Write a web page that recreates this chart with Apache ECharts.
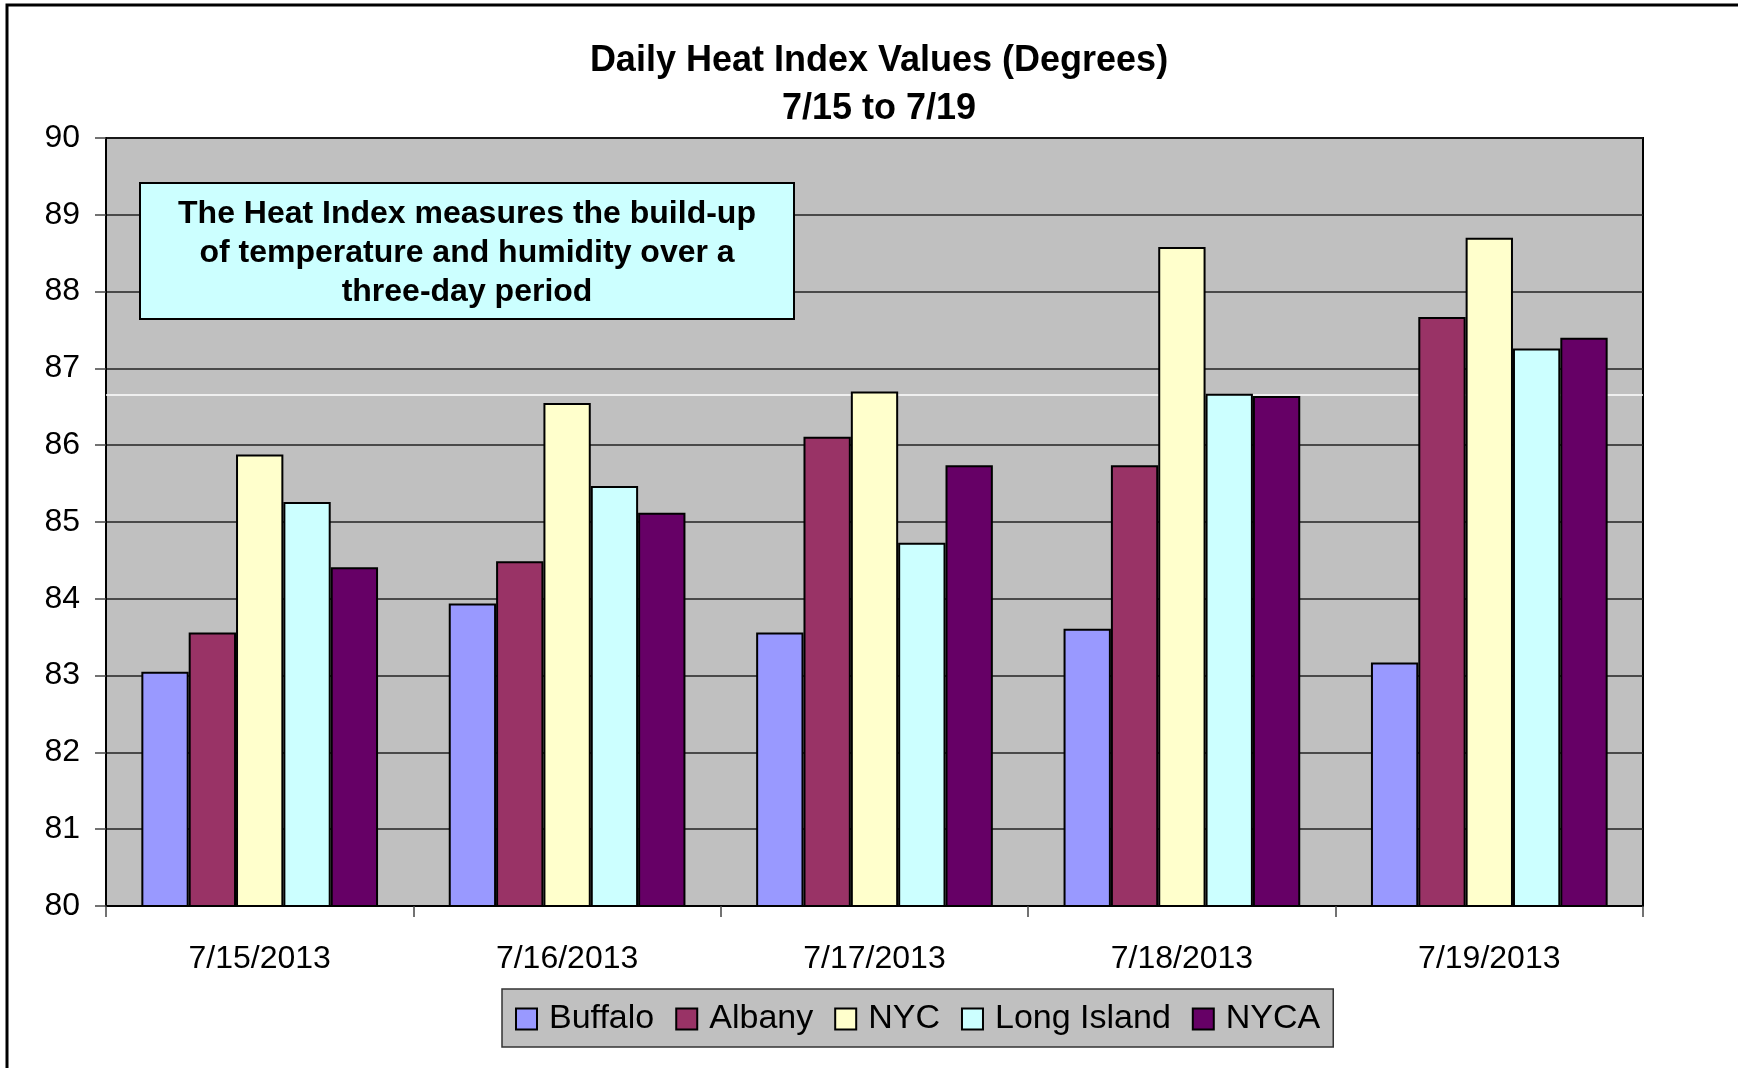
<!DOCTYPE html>
<html>
<head>
<meta charset="utf-8">
<script src="https://cdn.jsdelivr.net/npm/echarts@6/dist/echarts.min.js"></script>
<style>
  html, body { margin: 0; padding: 0; background: #fff; }
  #container { width: 1738px; height: 1068px; }
</style>
</head>
<body>
<div id="container"></div>
<script>
// data
var days = ['7/15/2013', '7/16/2013', '7/17/2013', '7/18/2013', '7/19/2013'];
var buffalo = [83.05, 83.94, 83.56, 83.61, 83.17];
var albany = [83.56, 84.49, 86.11, 85.74, 87.67];
var nyc = [85.88, 86.55, 86.70, 88.58, 88.70];
var longIsland = [85.26, 85.47, 84.73, 86.67, 87.26];
var nyca = [84.41, 85.12, 85.74, 86.64, 87.40];
var whiteLine = 86.66;
var noteText = 'The Heat Index measures the build-up\nof temperature and humidity over a\nthree-day period';

var font = '"Liberation Sans", Arial, sans-serif';

function bar(name, data, color) {
    return {
        name: name,
        type: 'bar',
        data: data,
        barGap: '0%',
        barCategoryGap: '23%',
        itemStyle: { color: color, borderColor: '#000', borderWidth: 2 }
    };
}

var series = [
    bar('Buffalo', buffalo, '#9999ff'),
    bar('Albany', albany, '#993366'),
    bar('NYC', nyc, '#ffffcc'),
    bar('Long Island', longIsland, '#ccffff'),
    bar('NYCA', nyca, '#660066')
];
series[0].markLine = {
    silent: true,
    z: 1,
    symbol: 'none',
    label: { show: false },
    lineStyle: { color: '#fff', width: 1.5, type: 'solid' },
    data: [{ yAxis: whiteLine }]
};

var myChart = echarts.init(document.getElementById('container'));

var option = {
    backgroundColor: '#fff',
    animation: false,
    textStyle: { fontFamily: font },
    title: {
        text: 'Daily Heat Index Values (Degrees)\n7/15 to 7/19',
        left: 874,
        textAlign: 'center',
        top: 32,
        textStyle: { fontFamily: font, fontSize: 36, fontWeight: 'bold', color: '#000', lineHeight: 48 }
    },
    legend: {
        data: ['Buffalo', 'Albany', 'NYC', 'Long Island', 'NYCA'],
        left: 502,
        top: 989,
        padding: [13, 13, 11, 13],
        itemGap: 21,
        itemWidth: 21,
        itemHeight: 21,
        icon: 'rect',
        backgroundColor: '#c0c0c0',
        borderColor: '#333',
        borderWidth: 1.5,
        itemStyle: { borderColor: '#000', borderWidth: 2 },
        textStyle: { fontFamily: font, fontSize: 34, color: '#000', padding: [0, 0, 0, 7] }
    },
    grid: {
        left: 106,
        top: 138,
        right: 95,
        bottom: 162,
        show: true,
        backgroundColor: '#c0c0c0',
        borderColor: '#000',
        borderWidth: 2
    },
    xAxis: {
        type: 'category',
        data: days,
        axisLine: { lineStyle: { color: '#000', width: 2 } },
        axisTick: { show: true, length: 11, lineStyle: { color: '#444', width: 1.5 } },
        axisLabel: { fontFamily: font, fontSize: 32, color: '#000', margin: 37, interval: 0 }
    },
    yAxis: {
        type: 'value',
        min: 80,
        max: 90,
        interval: 1,
        axisLine: { show: true, lineStyle: { color: '#000', width: 2 } },
        axisTick: { show: true, length: 11, lineStyle: { color: '#444', width: 1.5 } },
        axisLabel: { fontFamily: font, fontSize: 32, color: '#000', margin: 26 },
        splitLine: { show: true, lineStyle: { color: '#222', width: 1.5 } }
    },
    graphic: [
        {
            type: 'rect',
            z: 0,
            silent: true,
            shape: { x: 7, y: 5, width: 1800, height: 1200 },
            style: { fill: null, stroke: '#000', lineWidth: 3 }
        },
        {
            type: 'rect',
            z: 10,
            silent: true,
            shape: { x: 140, y: 183, width: 654, height: 136 },
            style: { fill: '#ccffff', stroke: '#000', lineWidth: 2 }
        },
        {
            type: 'text',
            z: 11,
            silent: true,
            x: 467,
            y: 253,
            style: {
                text: noteText,
                fill: '#000',
                font: 'bold 32px ' + font,
                align: 'center',
                verticalAlign: 'middle',
                lineHeight: 38.7
            }
        }
    ],
    series: series
};

myChart.setOption(option);
</script>
</body>
</html>
